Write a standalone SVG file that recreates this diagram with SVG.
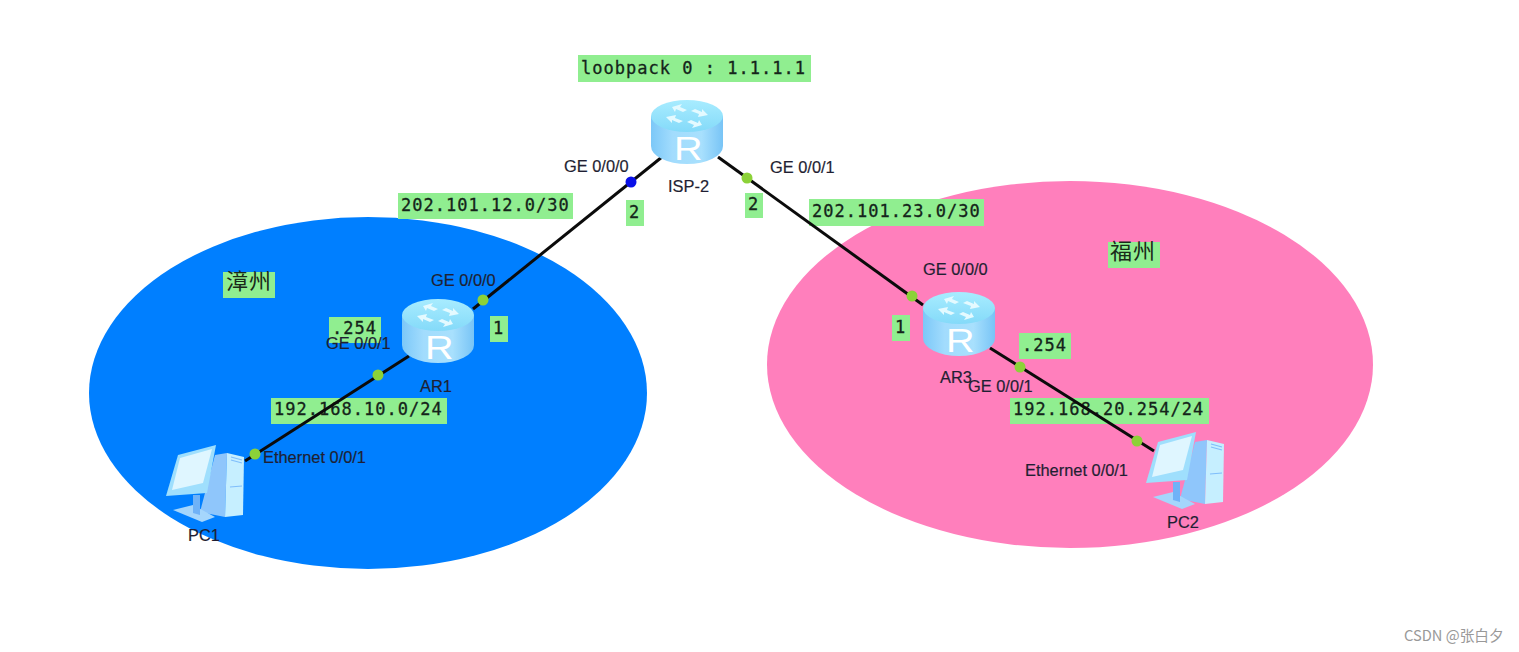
<svg xmlns="http://www.w3.org/2000/svg" width="1519" height="652" viewBox="0 0 1519 652">
<style>
.lb{fill:#90ee90}
.m{font-family:"DejaVu Sans Mono","Liberation Mono",monospace;font-size:17px;letter-spacing:1.02px;fill:#14241a;stroke:#14241a;stroke-width:.3px}
.z{font-family:"Noto Sans CJK SC","Noto Sans",sans-serif;font-size:22px;letter-spacing:1px;fill:#1a2a1a}
.s{font-family:"Liberation Sans",Arial,sans-serif;font-size:16.4px;fill:#1f1f33;stroke:#1f1f33;stroke-width:.2px}
.w{font-family:"Noto Sans CJK SC","Liberation Sans",sans-serif;font-size:14.700px;fill:#999}
.c{stroke:#0b0b0b;stroke-width:3;fill:none}
.g{fill:#8cd238}
.b{fill:#0a10e8}
</style>
<defs>
<linearGradient id="rb" x1="0" y1="0" x2="1" y2="0"><stop offset="0" stop-color="#7cc8f8"/><stop offset=".3" stop-color="#a2dcfd"/><stop offset=".7" stop-color="#a8e0fd"/><stop offset="1" stop-color="#78c4f6"/></linearGradient>
<linearGradient id="rt" x1="0" y1="0" x2="0" y2="1"><stop offset="0" stop-color="#a8ecff"/><stop offset="1" stop-color="#84daf9"/></linearGradient>
<g id="router">
<path d="M0 16V46A36 18 0 0 0 72 46V16Z" fill="url(#rb)"/>
<ellipse cx="36" cy="16" rx="36" ry="16" fill="url(#rt)"/>
<path d="M21 7L31 4 29 7 36 10 32 12 25 9 24 12ZM57 15L47 17 48 14 40 11 44 9 51 12 51 9ZM15 17L25 15 24 18 32 21 28 23 21 20 21 23ZM51 25L41 28 43 25 36 22 40 20 47 23 48 20Z" fill="#e4faff"/>
<text transform="translate(23 60) scale(1.2 1)" style="font-family:'Liberation Sans',sans-serif;font-size:33px;fill:#fff">R</text>
</g>
<g id="pc">
<path d="M50 10L62 8 60 72 35 67Z" fill="#8fc6fb"/>
<path d="M62 8L79 12 78 70 60 72Z" fill="#c6efff"/>
<path d="M66 12L77 15M66 15L77 18M65 42L77 41" stroke="#7fbdfb" stroke-width="1.2" fill="none"/>
<path d="M8 65L28 60 50 72 37 77Z" fill="#a5d6fc"/>
<path d="M28 50H35V70L28 68Z" fill="#6fb2f7"/>
<path d="M13 10L51 0 42 48 1 51Z" fill="#9fdffd"/>
<path d="M15 13L47 4 38 38 7 45Z" fill="#dff6ff"/>
</g>
</defs>
<ellipse id="zone-zhangzhou" cx="368" cy="393" rx="279" ry="176" fill="#007fff"/>
<ellipse id="zone-fuzhou" cx="1070" cy="364.500" rx="303" ry="183.500" fill="#ff7fbc"/>
<g id="labels">
<g id="lbl-loopback"><rect class="lb" x="578" y="55" width="233" height="27"/><text class="m" x="581" y="74">loobpack 0 : 1.1.1.1</text></g>
<g id="lbl-net12"><rect class="lb" x="398" y="193" width="175" height="26"/><text class="m" x="401" y="211">202.101.12.0/30</text></g>
<g id="lbl-net23"><rect class="lb" x="809" y="199" width="175" height="27"/><text class="m" x="812" y="217">202.101.23.0/30</text></g>
<g id="lbl-2a"><rect class="lb" x="626" y="200" width="18" height="26"/><text class="m" x="629" y="218">2</text></g>
<g id="lbl-2b"><rect class="lb" x="745" y="193" width="18" height="25"/><text class="m" x="748" y="210">2</text></g>
<g id="lbl-1a"><rect class="lb" x="490" y="316" width="18" height="26"/><text class="m" x="493" y="334">1</text></g>
<g id="lbl-1b"><rect class="lb" x="892" y="315" width="18" height="26"/><text class="m" x="895" y="333">1</text></g>
<g id="lbl-254a"><rect class="lb" x="329" y="317" width="52" height="26"/><text class="m" x="332" y="334">.254</text></g>
<g id="lbl-254b"><rect class="lb" x="1019" y="333" width="52" height="26"/><text class="m" x="1022" y="351">.254</text></g>
<g id="lbl-zz"><rect class="lb" x="223" y="272" width="52" height="26"/><text class="z" x="226" y="289">漳州</text></g>
<g id="lbl-fz"><rect class="lb" x="1108" y="242" width="52" height="26"/><text class="z" x="1110" y="259">福州</text></g>
<g id="lbl-net10"><rect class="lb" x="271" y="398" width="176" height="26"/><text class="m" x="274" y="415">192.168.10.0/24</text></g>
<g id="lbl-net20"><rect class="lb" x="1010" y="398" width="199" height="26"/><text class="m" x="1013" y="415">192.168.20.254/24</text></g>
</g>
<g id="connectors">
<path class="c" d="M662 157L473 309"/>
<path class="c" d="M718 157L923 305"/>
<path class="c" d="M409 356L245 461"/>
<path class="c" d="M990 348L1154 451"/>
<circle class="b" cx="631" cy="182" r="5.500"/>
<circle class="g" cx="747" cy="178" r="5.500"/>
<circle class="g" cx="483" cy="300" r="5.500"/>
<circle class="g" cx="912" cy="296" r="5.500"/>
<circle class="g" cx="378" cy="375" r="5.500"/>
<circle class="g" cx="255" cy="454" r="5.500"/>
<circle class="g" cx="1020" cy="367" r="5.500"/>
<circle class="g" cx="1137" cy="441" r="5.500"/>
</g>
<g id="node-isp2"><use href="#router" x="651" y="100"/><text class="s" x="668" y="192">ISP-2</text></g>
<g id="node-ar1"><use href="#router" x="402" y="299"/><text class="s" x="420" y="392">AR1</text></g>
<g id="node-ar3"><use href="#router" x="923" y="292"/><text class="s" x="940" y="383">AR3</text></g>
<g id="node-pc1"><use href="#pc" x="165" y="445"/><text class="s" x="188" y="541">PC1</text></g>
<g id="node-pc2"><use href="#pc" x="1145" y="432"/><text class="s" x="1167" y="528">PC2</text></g>
<g id="ports">
<text class="s" x="564" y="172">GE 0/0/0</text>
<text class="s" x="770" y="173">GE 0/0/1</text>
<text class="s" x="431" y="286">GE 0/0/0</text>
<text class="s" x="326" y="349">GE 0/0/1</text>
<text class="s" x="263" y="463">Ethernet 0/0/1</text>
<text class="s" x="923" y="275">GE 0/0/0</text>
<text class="s" x="968" y="392">GE 0/0/1</text>
<text class="s" x="1025" y="476">Ethernet 0/0/1</text>
</g>
<text class="w" x="1404" y="641">CSDN @张白夕</text>
</svg>
